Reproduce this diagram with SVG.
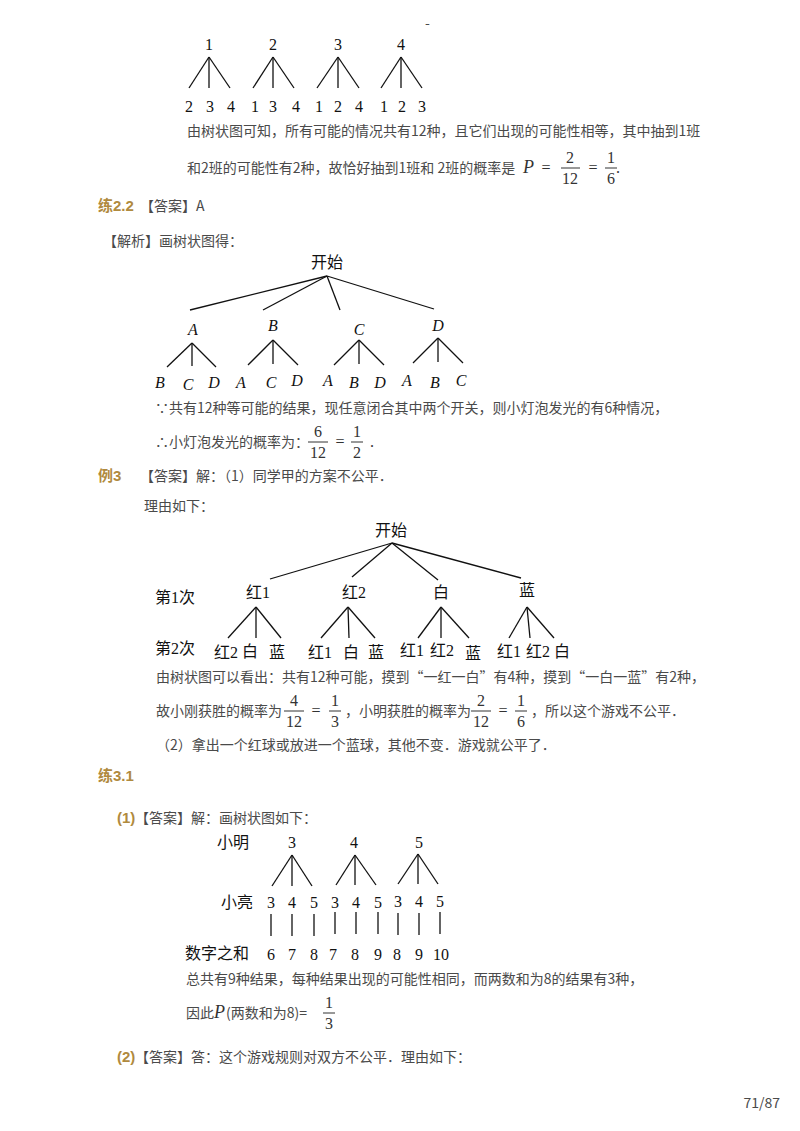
<svg xmlns="http://www.w3.org/2000/svg" width="800" height="1131" viewBox="0 0 800 1131">
<style>
.t{font-family:"Noto Sans CJK SC","Liberation Sans",sans-serif;font-size:14px;fill:#4a4a4a}
.h{font-family:"Liberation Sans","Noto Sans CJK SC",sans-serif;font-size:15px;fill:#b08a3e;font-weight:bold}
.s{font-family:"Liberation Serif","Noto Sans CJK SC",serif;font-size:16px;fill:#111;text-anchor:middle}
.i{font-style:italic}
.m{font-family:"Liberation Serif",serif;font-size:16px;fill:#333;text-anchor:middle}
.mi{font-family:"Liberation Serif",serif;font-size:18px;fill:#333;font-style:italic}
line{stroke:#111;stroke-width:1.3}
.fb{stroke:#333;stroke-width:1}
</style>
<rect width="800" height="1131" fill="#fff"/>
<text x="425" y="28" class="t" font-size="10">-</text>
<g id="tree1">
<g class="s"><text x="209" y="50">1</text><text x="273" y="50">2</text><text x="338" y="50">3</text><text x="401" y="50">4</text>
<text x="189" y="112">2</text><text x="210" y="112">3</text><text x="231" y="112">4</text>
<text x="255" y="112">1</text><text x="273" y="112">3</text><text x="296" y="112">4</text>
<text x="319" y="112">1</text><text x="338" y="112">2</text><text x="359" y="112">4</text>
<text x="384" y="112">1</text><text x="402" y="112">2</text><text x="422" y="112">3</text></g>
<line x1="209" y1="57" x2="189" y2="88"/><line x1="209" y1="57" x2="209" y2="88"/><line x1="209" y1="57" x2="230" y2="88"/>
<line x1="273" y1="57" x2="253" y2="88"/><line x1="273" y1="57" x2="273" y2="88"/><line x1="273" y1="57" x2="294" y2="88"/>
<line x1="338" y1="57" x2="317" y2="88"/><line x1="338" y1="57" x2="338" y2="88"/><line x1="338" y1="57" x2="359" y2="88"/>
<line x1="401" y1="57" x2="381" y2="88"/><line x1="401" y1="57" x2="401" y2="88"/><line x1="401" y1="57" x2="422" y2="88"/>
</g>
<text x="187" y="136" class="t">由树状图可知，所有可能的情况共有12种，且它们出现的可能性相等，其中抽到1班</text>
<text x="187" y="173" class="t">和2班的可能性有2种，故恰好抽到1班和 2班的概率是</text>
<text x="523" y="173" class="mi">P</text><text x="546" y="173" class="m">=</text>
<text x="570" y="163" class="m">2</text><line class="fb" x1="561" y1="168" x2="580" y2="168"/><text x="570" y="184" class="m">12</text>
<text x="593" y="173" class="m">=</text>
<text x="611" y="163" class="m">1</text><line class="fb" x1="605" y1="168" x2="617" y2="168"/><text x="611" y="184" class="m">6</text><text x="618" y="173" class="m">.</text>

<text x="98" y="211" class="h">练2.2</text>
<text x="140" y="211" class="t">【答案】A</text>
<text x="103" y="246" class="t">【解析】画树状图得：</text>
<g id="tree2">
<text x="327" y="268" class="s" font-family="Noto Sans CJK SC,sans-serif" font-size="17">开始</text>
<line x1="327" y1="276" x2="190" y2="310"/><line x1="327" y1="276" x2="263" y2="310"/><line x1="327" y1="276" x2="340" y2="310"/><line x1="327" y1="276" x2="434" y2="309"/>
<g class="s i"><text x="193" y="335">A</text><text x="273" y="331">B</text><text x="359" y="335">C</text><text x="438" y="331">D</text>
<text x="160" y="388">B</text><text x="188" y="390">C</text><text x="214" y="388">D</text><text x="241" y="388">A</text><text x="271" y="388">C</text><text x="297" y="386">D</text>
<text x="328" y="386">A</text><text x="354" y="388">B</text><text x="380" y="388">D</text><text x="407" y="386">A</text><text x="435" y="388">B</text><text x="461" y="386">C</text></g>
<line x1="192" y1="343" x2="167" y2="367"/><line x1="192" y1="343" x2="192" y2="366"/><line x1="192" y1="343" x2="216" y2="367"/>
<line x1="273" y1="340" x2="248" y2="365"/><line x1="273" y1="340" x2="273" y2="364"/><line x1="273" y1="340" x2="298" y2="365"/>
<line x1="359" y1="340" x2="334" y2="365"/><line x1="359" y1="340" x2="359" y2="364"/><line x1="359" y1="340" x2="384" y2="365"/>
<line x1="438" y1="338" x2="413" y2="363"/><line x1="438" y1="338" x2="438" y2="362"/><line x1="438" y1="338" x2="463" y2="363"/>
</g>
<text x="155" y="413" class="t">∵共有12种等可能的结果，现任意闭合其中两个开关，则小灯泡发光的有6种情况，</text>
<text x="155" y="447" class="t">∴小灯泡发光的概率为：</text>
<text x="318" y="437" class="m">6</text><line class="fb" x1="308" y1="442" x2="328" y2="442"/><text x="318" y="458" class="m">12</text>
<text x="340" y="447" class="m">=</text>
<text x="357" y="437" class="m">1</text><line class="fb" x1="351" y1="442" x2="363" y2="442"/><text x="357" y="458" class="m">2</text><text x="372" y="447" class="m">.</text>

<text x="98" y="481" class="h">例3</text>
<text x="103" y="481" class="t" dx="37">【答案】解：（1）同学甲的方案不公平．</text>
<text x="144" y="511" class="t">理由如下：</text>
<g id="tree3">
<text x="391" y="536" class="s" font-size="15">开始</text>
<line x1="392" y1="543" x2="270" y2="579"/><line x1="392" y1="543" x2="352" y2="577"/><line x1="392" y1="543" x2="438" y2="580"/><line x1="392" y1="543" x2="521" y2="578"/>
<g class="s" font-size="15"><text x="175" y="603">第1次</text><text x="258" y="598">红1</text><text x="354" y="598">红2</text><text x="441" y="598">白</text><text x="527" y="596">蓝</text>
<text x="175" y="654">第2次</text>
<text x="226" y="658">红2</text><text x="250" y="657">白</text><text x="277" y="658">蓝</text>
<text x="320" y="658">红1</text><text x="351" y="658">白</text><text x="376" y="658">蓝</text>
<text x="412" y="656">红1</text><text x="442" y="656">红2</text><text x="473" y="659">蓝</text>
<text x="509" y="657">红1</text><text x="538" y="657">红2</text><text x="562" y="657">白</text></g>
<line x1="256" y1="607" x2="228" y2="638"/><line x1="256" y1="607" x2="256" y2="638"/><line x1="256" y1="607" x2="281" y2="638"/>
<line x1="348" y1="607" x2="321" y2="638"/><line x1="348" y1="607" x2="349" y2="638"/><line x1="348" y1="607" x2="375" y2="638"/>
<line x1="441" y1="607" x2="418" y2="638"/><line x1="441" y1="607" x2="441" y2="638"/><line x1="441" y1="607" x2="469" y2="638"/>
<line x1="527" y1="607" x2="509" y2="638"/><line x1="527" y1="607" x2="530" y2="638"/><line x1="527" y1="607" x2="554" y2="638"/>
</g>
<text x="156" y="682" class="t">由树状图可以看出：共有12种可能，摸到“一红一白”有4种，摸到“一白一蓝”有2种，</text>
<text x="156" y="716" class="t">故小刚获胜的概率为</text>
<text x="294" y="706" class="m">4</text><line class="fb" x1="284" y1="711" x2="304" y2="711"/><text x="294" y="727" class="m">12</text>
<text x="316" y="716" class="m">=</text>
<text x="335" y="706" class="m">1</text><line class="fb" x1="329" y1="711" x2="341" y2="711"/><text x="335" y="727" class="m">3</text>
<text x="345" y="716" class="t">，小明获胜的概率为</text>
<text x="481" y="706" class="m">2</text><line class="fb" x1="471" y1="711" x2="491" y2="711"/><text x="481" y="727" class="m">12</text>
<text x="503" y="716" class="m">=</text>
<text x="521" y="706" class="m">1</text><line class="fb" x1="515" y1="711" x2="527" y2="711"/><text x="521" y="727" class="m">6</text>
<text x="531" y="716" class="t">，所以这个游戏不公平．</text>
<text x="156" y="750" class="t">（2）拿出一个红球或放进一个蓝球，其他不变．游戏就公平了．</text>

<text x="98" y="781" class="h">练3.1</text>
<text x="117" y="823" class="h" font-size="14">(1)</text><text x="135" y="823" class="t">【答案】解：画树状图如下：</text>
<g id="tree4">
<g class="s" font-size="15"><text x="233" y="848">小明</text><text x="292" y="848">3</text><text x="354" y="848">4</text><text x="419" y="848">5</text>
<text x="237" y="908">小亮</text>
<text x="271" y="908">3</text><text x="292" y="908">4</text><text x="314" y="908">5</text><text x="335" y="908">3</text><text x="356" y="908">4</text><text x="378" y="908">5</text><text x="398" y="907">3</text><text x="419" y="907">4</text><text x="440" y="907">5</text>
<text x="217" y="959">数字之和</text>
<text x="271" y="960">6</text><text x="292" y="960">7</text><text x="314" y="960">8</text><text x="333" y="960">7</text><text x="355" y="960">8</text><text x="378" y="960">9</text><text x="397" y="960">8</text><text x="419" y="960">9</text><text x="441" y="960">10</text></g>
<line x1="292" y1="855" x2="272" y2="886"/><line x1="292" y1="855" x2="292" y2="886"/><line x1="292" y1="855" x2="312" y2="886"/>
<line x1="355" y1="855" x2="336" y2="885"/><line x1="355" y1="855" x2="355" y2="885"/><line x1="355" y1="855" x2="376" y2="885"/>
<line x1="418" y1="854" x2="398" y2="884"/><line x1="418" y1="854" x2="418" y2="884"/><line x1="418" y1="854" x2="438" y2="884"/>
<line x1="271" y1="914" x2="271" y2="936"/><line x1="292" y1="914" x2="292" y2="936"/><line x1="314" y1="914" x2="314" y2="936"/>
<line x1="335" y1="912" x2="335" y2="934"/><line x1="356" y1="912" x2="356" y2="934"/><line x1="378" y1="912" x2="378" y2="934"/>
<line x1="398" y1="913" x2="398" y2="935"/><line x1="419" y1="913" x2="419" y2="935"/><line x1="440" y1="912" x2="440" y2="934"/>
</g>
<text x="186" y="984" class="t">总共有9种结果，每种结果出现的可能性相同，而两数和为8的结果有3种，</text>
<text x="186" y="1018" class="t">因此</text><text x="214" y="1018" class="mi">P</text>
<text x="226" y="1018" class="t">(两数和为8)=</text>
<text x="329" y="1008" class="m">1</text><line class="fb" x1="323" y1="1013" x2="335" y2="1013"/><text x="329" y="1029" class="m">3</text>
<text x="117" y="1062" class="h" font-size="14">(2)</text><text x="135" y="1062" class="t">【答案】答：这个游戏规则对双方不公平．理由如下：</text>
<text x="780" y="1108" class="t" font-size="10" text-anchor="end" fill="#333">71/87</text>
</svg>
